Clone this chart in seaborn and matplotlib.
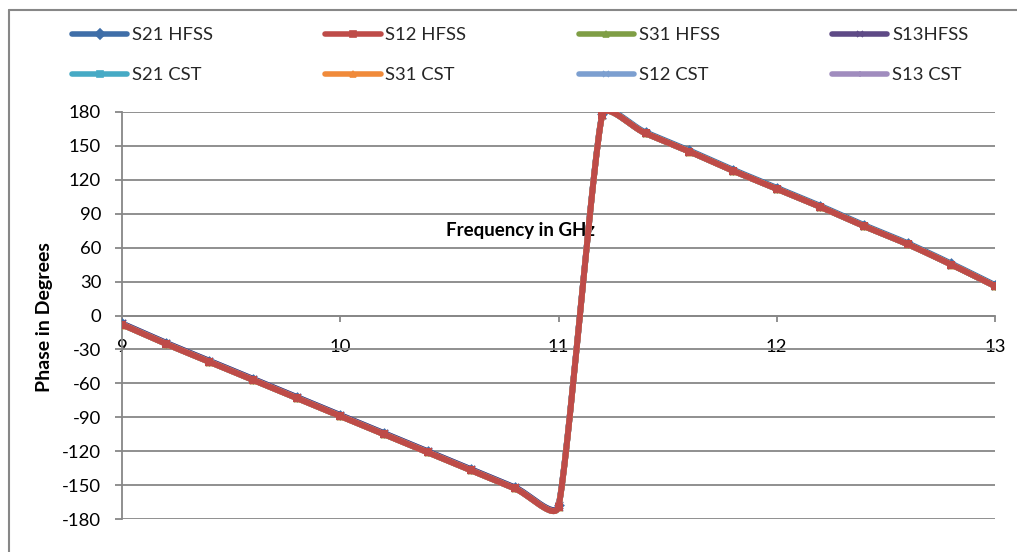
import numpy as np
import pandas as pd
import matplotlib
matplotlib.use("Agg")
import matplotlib.pyplot as plt
import seaborn as sns
from matplotlib.lines import Line2D

# Frequency sweep (GHz) and transmission phase wrapped to ±180 (degrees)
freq_ghz = [9.0, 9.2, 9.4, 9.6, 9.8, 10.0, 10.2, 10.4, 10.6, 10.8, 11.0,
            11.2, 11.4, 11.6, 11.8, 12.0, 12.2, 12.4, 12.6, 12.8, 13.0]

s21_hfss = [-7, -24, -40, -56, -72, -88, -104, -120, -136, -152, -168,
            178, 162, 146, 129, 113, 97, 80, 64, 46, 27]
s12_hfss = [-8, -25, -41, -57, -73, -89, -105, -121, -137, -153, -169,
            177, 161, 145, 128, 112, 96, 79, 63, 45, 26]
s31_hfss = [-8, -25, -41, -57, -73, -89, -105, -121, -137, -153, -169,
            177, 161, 145, 128, 112, 96, 79, 63, 45, 26]
s13_hfss = [-7, -24, -40, -56, -72, -88, -104, -120, -136, -152, -168,
            177, 161, 145, 128, 112, 96, 79, 63, 45, 26]
s21_cst = [-8, -25, -41, -57, -73, -89, -105, -121, -137, -153, -169,
           177, 161, 145, 128, 112, 96, 79, 63, 45, 26]
s31_cst = [-8, -25, -41, -57, -73, -89, -105, -121, -137, -153, -169,
           177, 161, 145, 128, 112, 96, 79, 63, 45, 26]
s12_cst = [-8, -25, -41, -57, -73, -89, -105, -121, -137, -153, -169,
           177, 161, 145, 128, 112, 96, 79, 63, 45, 26]
s13_cst = [-8, -25, -41, -57, -73, -89, -105, -121, -137, -153, -169,
           177, 161, 145, 128, 112, 96, 79, 63, 45, 26]

series_labels = ["S21 HFSS", "S12 HFSS", "S31 HFSS", "S13HFSS",
                 "S21 CST", "S31 CST", "S12 CST", "S13 CST"]
series_values = [s21_hfss, s12_hfss, s31_hfss, s13_hfss,
                 s21_cst, s31_cst, s12_cst, s13_cst]
series_colors = ["#3F6EA8", "#BE4B48", "#7F9E45", "#5E4A86",
                 "#46AAC5", "#F08A3A", "#7C9FD0", "#A08CBE"]
series_markers = ["D", "s", "^", "x", "s", "^", "x", "+"]
# red HFSS trace ends up on top of the stack
draw_order = [0, 3, 2, 4, 6, 7, 5, 1]

y_ticks = list(range(-180, 181, 30))
x_ticks = [9, 10, 11, 12, 13]

GRID = "#878787"

sns.set_theme(style="white")
plt.rcParams["font.family"] = ["Lato", "DejaVu Sans"]

W, H = 1017, 552
fig = plt.figure(figsize=(W / 100, H / 100), dpi=100)
fig.patch.set_facecolor("white")

ax_l, ax_r, ax_t, ax_b = 122, 995, 112, 519
ax = fig.add_axes([ax_l / W, (H - ax_b) / H, (ax_r - ax_l) / W, (ax_b - ax_t) / H])
ax.set_xlim(9, 13)
ax.set_ylim(-180, 180)

# pixel scale of the axes, so the smoothing follows on-screen geometry
px_per_x = (ax_r - ax_l) / 4.0
px_per_y = (ax_b - ax_t) / 360.0


def smooth_curve(xs, ys, steps=30):
    """Bezier smoothing through every point; handle lengths follow the
    local chord and are limited next to much shorter neighbouring chords."""
    px = np.asarray(xs, float) * px_per_x
    py = np.asarray(ys, float) * px_per_y
    pts = np.column_stack([px, py])
    n = len(pts)
    chords = np.hypot(*(np.diff(pts, axis=0).T))
    tang = np.zeros_like(pts)
    for i in range(n):
        a = pts[max(i - 1, 0)]
        b = pts[min(i + 1, n - 1)]
        d = b - a
        tang[i] = d / (np.hypot(*d) + 1e-12)
    out = []
    t = np.linspace(0, 1, steps)[:, None]
    for i in range(n - 1):
        p0, p3 = pts[i], pts[i + 1]
        seg = chords[i]
        prev_c = chords[i - 1] if i > 0 else seg
        next_c = chords[i + 1] if i + 1 < n - 1 else seg
        h0 = min(seg, 2.5 * prev_c) / 3.0
        h1 = min(seg, 2.5 * next_c) / 3.0
        p1 = p0 + tang[i] * h0
        p2 = p3 - tang[i + 1] * h1
        curve = ((1 - t) ** 3) * p0 + 3 * ((1 - t) ** 2) * t * p1 \
            + 3 * (1 - t) * t ** 2 * p2 + t ** 3 * p3
        out.append(curve if i == 0 else curve[1:])
    c = np.vstack(out)
    return c[:, 0] / px_per_x, c[:, 1] / px_per_y


for z, idx in enumerate(draw_order):
    sx, sy = smooth_curve(freq_ghz, series_values[idx])
    curve = pd.DataFrame({"freq": sx, "phase": sy})
    sns.lineplot(data=curve, x="freq", y="phase", ax=ax, color=series_colors[idx],
                 linewidth=4.2, sort=False, estimator=None, legend=False,
                 zorder=3 + z * 2)
    pts = pd.DataFrame({"freq": freq_ghz, "phase": series_values[idx]})
    mk = series_markers[idx]
    filled = mk not in ("x", "+")
    sns.scatterplot(data=pts, x="freq", y="phase", ax=ax, marker=mk,
                    color=series_colors[idx], s=30 if filled else 28,
                    linewidth=0 if filled else 1.2, legend=False,
                    zorder=4 + z * 2)

# gridlines and axes
ax.set_yticks(y_ticks)
ax.set_xticks(x_ticks)
ax.set_yticklabels([str(v) for v in y_ticks])
ax.set_xticklabels([str(v) for v in x_ticks])
ax.yaxis.grid(True, color=GRID, linewidth=1.3, zorder=0)
ax.xaxis.grid(False)
ax.set_axisbelow(True)
for side in ("top", "right"):
    ax.spines[side].set_visible(False)
ax.spines["left"].set_color(GRID)
ax.spines["left"].set_linewidth(1.3)
ax.spines["bottom"].set_position(("data", 0))
ax.spines["bottom"].set_color(GRID)
ax.spines["bottom"].set_linewidth(1.3)
ax.spines["bottom"].set_zorder(1)
ax.tick_params(axis="y", direction="out", length=5, width=1.3, color=GRID,
               pad=10, labelsize=13.3, labelcolor="black", left=True)
ax.tick_params(axis="x", direction="out", length=4.5, width=1.3, color=GRID,
               pad=12.5, labelsize=13.3, labelcolor="black", bottom=True)
ax.set_xlabel("")
ax.set_ylabel("")

fig.text(45 / W, 1 - 317 / H, "Phase in Degrees", rotation=90, ha="center",
         va="center", fontsize=14, fontweight="bold", color="black")
ax.text(9 + (520 - ax_l) / px_per_x, (315.5 - 231) / px_per_y,
        "Frequency in GHz", ha="center", va="center", fontsize=13.5,
        fontweight="bold", color="black", zorder=2)

# legend: two rows of four, filled column by column
handles = []
labels = []
for col in range(4):
    for row in range(2):
        idx = row * 4 + col
        handles.append(Line2D([], [], color=series_colors[idx], linewidth=4.0,
                              marker=series_markers[idx], markersize=5,
                              markeredgewidth=1.2, solid_capstyle="round"))
        labels.append(series_labels[idx])
fig.legend(handles, labels, ncol=4, loc="upper left",
           bbox_to_anchor=(72 / W, 1 - 27 / H), frameon=False, fontsize=13.3,
           handlelength=3.0, handletextpad=0.25, columnspacing=6.08,
           labelspacing=1.3, borderpad=0, borderaxespad=0)

# chart-area border (top and left edges fall inside the image)
fig.add_artist(Line2D([8.5 / W, 8.5 / W], [0, 1 - 10 / H], transform=fig.transFigure,
                      color=GRID, linewidth=1.5))
fig.add_artist(Line2D([8.5 / W, 1], [1 - 10 / H, 1 - 10 / H], transform=fig.transFigure,
                      color=GRID, linewidth=1.5))

fig.savefig("out.png", dpi=100, facecolor="white")
